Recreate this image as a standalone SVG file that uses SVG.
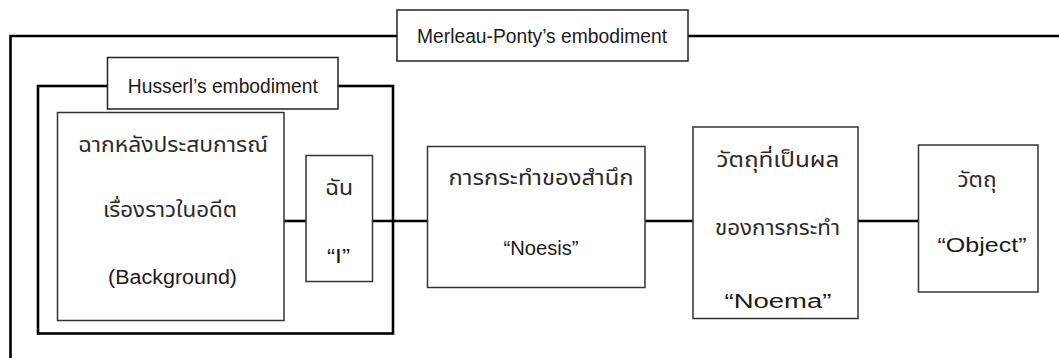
<svg xmlns="http://www.w3.org/2000/svg" width="1059" height="358" viewBox="0 0 1059 358">
  <style>
    .frame { fill: none; stroke: #000; stroke-width: 2.6; }
    .label-box { fill: #fff; stroke: #222; stroke-width: 1.5; }
    .box { fill: #fff; stroke: #333; stroke-width: 1.5; }
    .link { stroke: #000; stroke-width: 2.6; fill: none; }
    text { fill: #1a1a1a; text-anchor: middle; }
    .lat { font-family: "Liberation Sans", Arial, sans-serif; font-size: 19.5px; }
    .th { font-family: "Noto Sans Thai", "Noto Sans", "DejaVu Sans", sans-serif; font-size: 21px; fill: #2a2a2a; }
  </style>
  <rect width="1059" height="358" fill="#fff"/>

  <!-- outer frame: Merleau-Ponty -->
  <g id="merleau-ponty">
    <path class="frame" d="M1060 36 H10.5 V359"/>
    <rect class="label-box" x="397" y="10" width="291" height="51"/>
    <text class="lat" x="542" y="43" textLength="250" lengthAdjust="spacingAndGlyphs">Merleau-Ponty’s embodiment</text>
  </g>

  <!-- inner frame: Husserl -->
  <g id="husserl">
    <rect class="frame" x="38" y="86" width="355" height="247.5"/>
    <rect class="label-box" x="107.5" y="57.5" width="230.5" height="51.5"/>
    <text class="lat" x="222.8" y="93" textLength="190" lengthAdjust="spacingAndGlyphs">Husserl’s embodiment</text>
  </g>

  <!-- connectors -->
  <g id="connectors">
    <line class="link" x1="284" y1="221" x2="306" y2="221"/>
    <line class="link" x1="372.5" y1="221" x2="427.5" y2="221"/>
    <line class="link" x1="645" y1="221" x2="693" y2="221"/>
    <line class="link" x1="858" y1="221" x2="918.5" y2="221"/>
  </g>

  <g id="background">
    <rect class="box" x="57.5" y="112.5" width="226.5" height="208"/>
    <text class="th" x="173" y="152" textLength="190" lengthAdjust="spacingAndGlyphs">ฉากหลังประสบการณ์</text>
    <text class="th" x="170" y="217" textLength="134" lengthAdjust="spacingAndGlyphs">เรื่องราวในอดีต</text>
    <text class="lat" x="172.5" y="284" textLength="129" lengthAdjust="spacingAndGlyphs">(Background)</text>
  </g>

  <g id="self">
    <rect class="box" x="306" y="155.5" width="66.5" height="126"/>
    <text class="th" x="339" y="195" textLength="28" lengthAdjust="spacingAndGlyphs">ฉัน</text>
    <text class="lat" x="338.5" y="263" textLength="23" lengthAdjust="spacingAndGlyphs">“I”</text>
  </g>

  <g id="noesis">
    <rect class="box" x="427.5" y="146.5" width="217.5" height="141"/>
    <text class="th" x="541" y="185" textLength="185" lengthAdjust="spacingAndGlyphs">การกระทำของสำนึก</text>
    <text class="lat" x="541" y="255" textLength="75" lengthAdjust="spacingAndGlyphs">“Noesis”</text>
  </g>

  <g id="noema">
    <rect class="box" x="693" y="127" width="165" height="191.5"/>
    <text class="th" x="778" y="167" textLength="123" lengthAdjust="spacingAndGlyphs">วัตถุที่เป็นผล</text>
    <text class="th" x="777.5" y="235" textLength="125" lengthAdjust="spacingAndGlyphs">ของการกระทำ</text>
    <text class="lat" x="778" y="308" textLength="107" lengthAdjust="spacingAndGlyphs">“Noema”</text>
  </g>

  <g id="object">
    <rect class="box" x="918.5" y="145" width="119.5" height="147"/>
    <text class="th" x="977" y="187" textLength="39" lengthAdjust="spacingAndGlyphs">วัตถุ</text>
    <text class="lat" x="982" y="252" textLength="89" lengthAdjust="spacingAndGlyphs">“Object”</text>
  </g>
</svg>
